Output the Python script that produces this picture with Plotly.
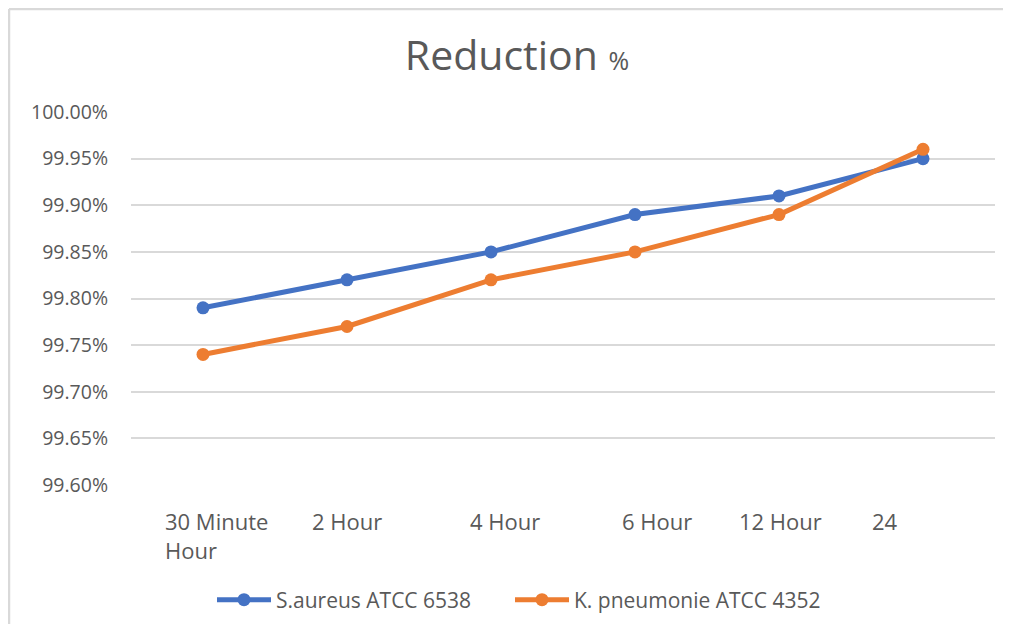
import plotly.graph_objects as go

categories = ["30 Minute<br>Hour", "2 Hour", "4 Hour", "6 Hour", "12 Hour", "24"]
s_aureus = [99.79, 99.82, 99.85, 99.89, 99.91, 99.95]
k_pneumonie = [99.74, 99.77, 99.82, 99.85, 99.89, 99.96]
y_ticks = [99.60, 99.65, 99.70, 99.75, 99.80, 99.85, 99.90, 99.95, 100.00]
y_tick_text = [f"{v:.2f}%" for v in y_ticks]
series_names = ["S.aureus ATCC 6538", "K. pneumonie ATCC 4352"]

# styling: horizontal placement of the category labels as laid out in the original
label_anchor = ["left", "center", "center", "center", "center", "center"]
label_shift = [-40, 0, 14, 22, 1, -38]

FONT = "Open Sans"
TXT = "#595959"
BLUE = "#4472C4"
ORANGE = "#ED7D31"
GRID = "#D9D9D9"

# page body adds ~8px offset; figure sized to fit the window without scrollbars
OFF = 8
W, H = 1011 - 2 * OFF, 632 - 2 * OFF
L, T, PW, PH = 131 - OFF, 112 - OFF, 864, 373

fig = go.Figure()
for name, vals, col, lg in [(series_names[0], s_aureus, BLUE, "legend"),
                            (series_names[1], k_pneumonie, ORANGE, "legend2")]:
    fig.add_trace(go.Scatter(
        x=categories, y=vals, name=name, mode="lines+markers",
        line=dict(color=col, width=5),
        marker=dict(color=col, size=13),
        legend=lg,
    ))

# category labels placed through the category axis (by category index)
for i, (cat, anc, sh) in enumerate(zip(categories, label_anchor, label_shift)):
    fig.add_annotation(
        x=i, xref="x", y=0, yref="paper",
        text=cat, showarrow=False, align="left",
        xanchor=anc, yanchor="top", xshift=sh, yshift=-19,
        font=dict(family=FONT, size=22, color=TXT),
    )

legend_common = dict(
    orientation="h", xref="container", xanchor="left",
    y=1 - (600 - OFF) / H, yref="container", yanchor="middle",
    font=dict(family=FONT, size=21, color=TXT),
    itemwidth=54, bgcolor="rgba(0,0,0,0)",
)

fig.update_layout(
    width=W, height=H,
    margin=dict(l=L, r=W - L - PW, t=T, b=H - T - PH, pad=0),
    paper_bgcolor="white", plot_bgcolor="white",
    font=dict(family=FONT, color=TXT),
    title=dict(
        text="Reduction <span style='font-size:25px'>%</span>",
        x=(517 - OFF) / W, xref="container", xanchor="center",
        y=1 - (56 - OFF) / H, yref="container", yanchor="middle",
        font=dict(family=FONT, size=41, color=TXT),
    ),
    showlegend=True,
    legend=dict(x=(218 - OFF - 6) / W, **legend_common),
    legend2=dict(x=(516 - OFF - 6) / W, **legend_common),
    xaxis=dict(
        type="category", range=[-0.5, 5.5],
        showgrid=False, zeroline=False, showline=False, ticks="",
        showticklabels=False,
    ),
    yaxis=dict(
        range=[99.6, 100.0], tickvals=y_ticks, ticktext=y_tick_text,
        showgrid=True, gridcolor=GRID, gridwidth=1.5,
        zeroline=False, showline=False, ticks="",
        tickfont=dict(family=FONT, size=19.5, color=TXT),
        ticklabelstandoff=22,
    ),
    shapes=[
        dict(type="line", xref="paper", yref="paper",
             x0=(1 - L) / PW, x1=(W - L) / PW, y0=(T + PH - 1) / PH, y1=(T + PH - 1) / PH,
             line=dict(color=GRID, width=2.5)),
        dict(type="line", xref="paper", yref="paper",
             x0=(1 - L) / PW, x1=(1 - L) / PW, y0=(T + PH - 1) / PH, y1=-(H - T - PH) / PH,
             line=dict(color=GRID, width=2.5)),
    ],
)

fig.write_html("out.html")
